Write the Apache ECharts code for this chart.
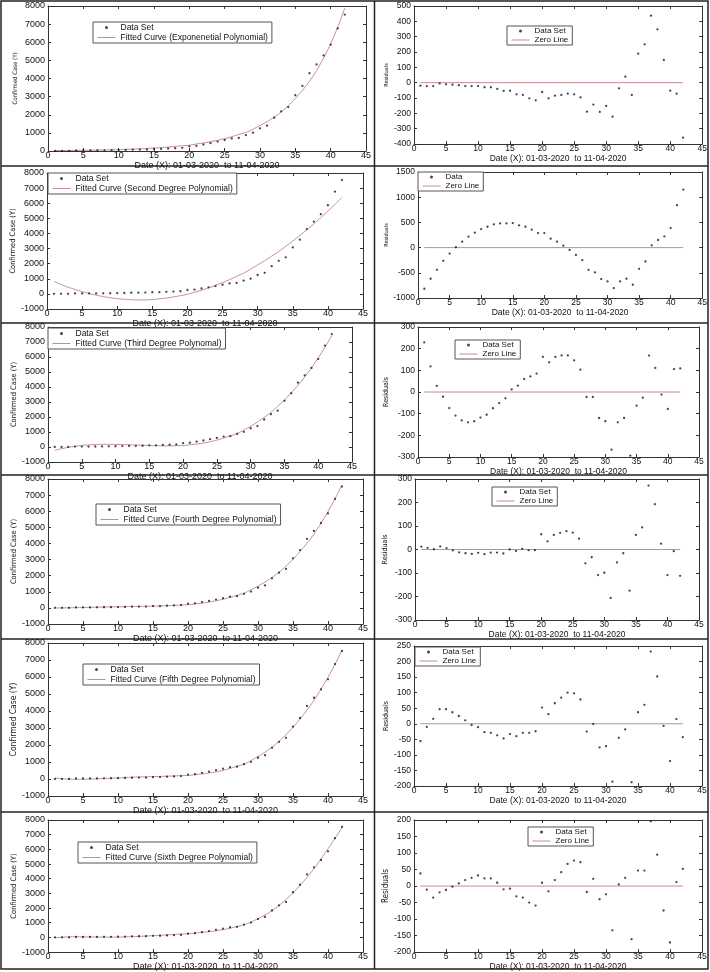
<!DOCTYPE html>
<html><head><meta charset="utf-8">
<script src="https://cdn.jsdelivr.net/npm/echarts@6/dist/echarts.min.js"></script>
<style>html,body{margin:0;padding:0;background:#fff}#c{width:710px;height:972px}</style>
</head><body><div id="c"></div>
<script>
// ---------------- DATA ----------------
const days = [1,2,3,4,5,6,7,8,9,10,11,12,13,14,15,16,17,18,19,20,21,22,23,24,25,26,27,28,29,30,31,32,33,34,35,36,37,38,39,40,41,42];
const confirmed = [5,5,5,28,30,31,34,39,43,50,60,74,81,84,110,114,137,151,173,258,283,360,433,519,606,694,724,873,1010,1251,1397,1834,2188,2421,3076,3588,4289,4778,5274,5865,6761,7529];

const fitExp = [25,27,27,33,41,44,51,61,65,72,90,104,122,138,162,190,217,253,288,319,385,445,513,591,682,790,913,1016,1201,1403,1619,1871,2149,2501,2887,3338,3852,4430,5126,5917,6833,7888];
const fitDeg2 = [821,623,446,291,148,24,-84,-178,-253,-318,-354,-387,-399,-396,-377,-327,-277,-204,-116,-31,105,242,394,565,751,944,1165,1366,1635,1922,2200,2505,2806,3158,3497,3864,4243,4627,5050,5477,5919,6378];
const fitDeg3 = [-224,-113,-23,50,104,140,165,179,178,168,165,149,132,113,98,85,77,79,88,96,146,198,264,350,460,591,747,896,1130,1386,1663,1974,2308,2715,3139,3614,4121,4667,5286,5943,6655,7420];
const fitDeg4 = [-7,-2,4,15,24,35,46,55,62,64,80,87,94,101,110,120,134,154,176,193,248,298,362,441,534,648,783,906,1119,1350,1603,1889,2204,2596,3014,3494,4017,4585,5249,5974,6768,7641];
const fitDeg5 = [61,15,-11,-19,-17,-6,9,28,47,61,87,103,118,131,143,154,166,180,197,206,252,294,349,419,508,616,749,874,1086,1323,1583,1879,2206,2609,3039,3527,4057,4626,5281,5985,6746,7572];
const fitDeg6 = [-33,16,40,47,42,33,26,21,18,18,37,51,71,94,118,145,172,201,232,248,299,342,391,452,529,622,742,851,1050,1276,1531,1829,2163,2582,3029,3541,4093,4683,5348,6036,6749,7477];

const residExp = [-20,-22,-22,-5,-11,-13,-17,-22,-22,-22,-30,-30,-41,-54,-52,-76,-80,-102,-115,-61,-102,-85,-80,-72,-76,-96,-189,-143,-191,-152,-222,-37,39,-80,189,250,437,348,148,-52,-72,-359];
const residDeg2 = [-816,-618,-441,-263,-118,7,118,217,296,368,414,461,480,480,487,441,414,355,289,289,178,118,39,-46,-145,-250,-441,-493,-625,-671,-803,-671,-618,-737,-421,-276,46,151,224,388,842,1151];
const residDeg3 = [229,118,28,-22,-74,-109,-131,-140,-135,-118,-105,-75,-51,-29,12,29,60,72,85,162,137,162,169,169,146,103,-23,-23,-120,-135,-266,-140,-120,-294,-63,-26,168,111,-12,-78,106,109];
const residDeg4 = [12,7,1,13,6,-4,-12,-16,-19,-14,-20,-13,-13,-17,0,-6,3,-3,-3,65,35,62,71,78,72,46,-59,-33,-109,-99,-206,-55,-16,-175,62,94,272,193,25,-109,-7,-112];
const residDeg5 = [-56,-10,16,47,47,37,25,11,-4,-11,-27,-29,-37,-47,-33,-40,-29,-29,-24,52,31,66,84,100,98,78,-25,-1,-76,-72,-186,-45,-18,-188,37,61,232,152,-7,-120,15,-43];
const residDeg6 = [38,-11,-35,-19,-12,-2,8,18,25,32,23,23,10,-10,-8,-31,-35,-50,-59,10,-16,18,42,67,77,72,-18,22,-40,-25,-134,5,25,-161,47,47,196,95,-74,-171,12,52];

const zeroLineX = [1, 42];
const zeroLineY = [0, 0];

const fitNames = ['Fitted Curve (Exponenetial Polynomial)','Fitted Curve (Second Degree Polynomial)','Fitted Curve (Third Degree Polynomal)','Fitted Curve (Fourth Degree Polynomial)','Fitted Curve (Fifth Degree Polynomial)','Fitted Curve (Sixth Degree Polynomial)'];
const residDataNames = ['Data Set','Data','Data Set','Data Set','Data Set','Data Set'];
const fits = [fitExp, fitDeg2, fitDeg3, fitDeg4, fitDeg5, fitDeg6];
const resids = [residExp, residDeg2, residDeg3, residDeg4, residDeg5, residDeg6];

const xTicks = {min: 0, max: 45, step: 5};
const caseTicks = [{min:0,max:8000,step:1000},{min:-1000,max:8000,step:1000},{min:-1000,max:8000,step:1000},{min:-1000,max:8000,step:1000},{min:-1000,max:8000,step:1000},{min:-1000,max:8000,step:1000}];
const residTicks = [{min:-400,max:500,step:100},{min:-1000,max:1500,step:500},{min:-300,max:300,step:100},{min:-300,max:300,step:100},{min:-200,max:250,step:50},{min:-200,max:200,step:50}];

const xName = 'Date (X): 01-03-2020  to 11-04-2020';
const yNameLeft = 'Confirmed Case (Y)';
const yNameRight = 'Residuals';

// ---------------- LAYOUT ----------------
const L = {
  leftGrid: [[48,6,318,145],[47,173,316,136],[48,327,304,135],[48,479,315,145],[48,643,315,153],[48,820,315,134]],
  rightGrid: [[414,6,291,138],[418,172,288,126],[418,327,281,130],[415,479,284,141],[414,646,288,140],[414,820,288,135]],
  leftLegend: [[93,22],[48,173],[48,328],[96,504],[83,664],[78,842]],
  rightLegend: [[507,26],[418,172],[455,340],[492,487],[415,647],[528,827]],
  leftNameGap: [7,7.5,5.5,6.5,6.5,5.5],
  rightNameGap: [6.5,5.5,5.5,4,5,8.5],
  leftYNameSize: [6,7.5,7.5,7.5,8.5,7.5],
  rightYNameSize: [5.5,5.5,7,7,7,8],
  rightYNameGap: [24,28,28,26.5,24,23],
  hLines: [166,323,475,639,812],
  vLine: 374.5
};

const FONT = "'Liberation Sans', Arial, sans-serif";
const NARROW = "'Liberation Sans Narrow', 'DejaVu Sans Condensed', sans-serif";
const AX = '#333', TXT = '#111';
const dotColor = '#15153a', curveColor = '#c98a96';
const plain = v => String(v);

const option = {animation:false, grid:[], xAxis:[], yAxis:[], series:[], legend:[], graphic:[]};

function addPanel(rect, yt, xGap, yName, yNameSize, yNameGap, labelSize) {
  const g = option.grid.length;
  option.grid.push({left:rect[0], top:rect[1], width:rect[2], height:rect[3]});
  const line = {onZero:false, lineStyle:{color:AX, width:1}};
  const tick = {inside:true, length:3, lineStyle:{color:AX}};
  option.xAxis.push({type:'value', gridIndex:g, position:'bottom', min:xTicks.min, max:xTicks.max, interval:xTicks.step,
    axisLine:line, axisTick:tick, splitLine:{show:false},
    axisLabel:{fontSize:labelSize, color:TXT, margin:0, fontFamily:FONT, formatter:plain},
    name:xName, nameLocation:'middle', nameGap:xGap, nameTextStyle:{fontSize:labelSize, color:TXT, fontFamily:FONT}});
  option.xAxis.push({type:'value', gridIndex:g, position:'top', min:xTicks.min, max:xTicks.max, interval:xTicks.step,
    axisLine:line, axisTick:tick, splitLine:{show:false}, axisLabel:{show:false}});
  option.yAxis.push({type:'value', gridIndex:g, position:'left', min:yt.min, max:yt.max, interval:yt.step,
    axisLine:line, axisTick:tick, splitLine:{show:false},
    axisLabel:{fontSize:labelSize, color:TXT, margin:3, fontFamily:FONT, formatter:plain},
    name:yName, nameLocation:'middle', nameRotate:90, nameGap:yNameGap, nameTextStyle:{fontSize:yNameSize, color:TXT, fontFamily:NARROW}});
  option.yAxis.push({type:'value', gridIndex:g, position:'right', min:yt.min, max:yt.max, interval:yt.step,
    axisLine:line, axisTick:tick, splitLine:{show:false}, axisLabel:{show:false}});
  return g;
}

function addLegend(pos, dotName, lineName, fs) {
  option.legend.push({left:pos[0], top:pos[1], orient:'vertical', selectedMode:false,
    data:[{name:dotName}, {name:lineName, itemStyle:{opacity:0}, lineStyle:{width:1, color:curveColor}}],
    itemWidth:18, itemHeight:3, itemGap:1, padding:[1,4,1,4],
    borderColor:'#555', borderWidth:1, backgroundColor:'#fff',
    textStyle:{fontSize:fs, color:TXT, fontFamily:FONT, lineHeight:8}});
}

for (let r = 0; r < 6; r++) {
  let g = addPanel(L.leftGrid[r], caseTicks[r], L.leftNameGap[r], yNameLeft, L.leftYNameSize[r], 30, 9);
  option.series.push({type:'scatter', name:'Data Set', xAxisIndex:2*g, yAxisIndex:2*g, symbol:'circle', symbolSize:2.3,
    itemStyle:{color:dotColor}, silent:true, data: days.map((d,i)=>[d, confirmed[i]])});
  option.series.push({type:'line', name:fitNames[r], xAxisIndex:2*g, yAxisIndex:2*g, symbol:'none', smooth:0.2,
    lineStyle:{color:curveColor, width:1}, itemStyle:{color:curveColor}, silent:true, z:1,
    data: days.map((d,i)=>[d, fits[r][i]])});
  addLegend(L.leftLegend[r], 'Data Set', fitNames[r], 8.5);

  g = addPanel(L.rightGrid[r], residTicks[r], L.rightNameGap[r], yNameRight, L.rightYNameSize[r], L.rightYNameGap[r], 8.5);
  option.series.push({type:'scatter', name:residDataNames[r], xAxisIndex:2*g, yAxisIndex:2*g, symbol:'circle', symbolSize:2.3,
    itemStyle:{color:dotColor}, silent:true, data: days.map((d,i)=>[d, resids[r][i]])});
  option.series.push({type:'line', name:'Zero Line', xAxisIndex:2*g, yAxisIndex:2*g, symbol:'none',
    lineStyle:{color:curveColor, width:1}, itemStyle:{color:curveColor}, silent:true, z:1,
    data: zeroLineX.map((x,i)=>[x, zeroLineY[i]])});
  addLegend(L.rightLegend[r], residDataNames[r], 'Zero Line', 8);
}

option.graphic.push({type:'rect', silent:true, z:-1, shape:{x:1,y:1,width:707,height:968}, style:{fill:'none', stroke:'#222', lineWidth:1.5}});
option.graphic.push({type:'line', silent:true, z:-1, shape:{x1:L.vLine,y1:1,x2:L.vLine,y2:969}, style:{stroke:'#222', lineWidth:1.5}});
L.hLines.forEach(y => option.graphic.push({type:'line', silent:true, z:-1, shape:{x1:1,y1:y,x2:708,y2:y}, style:{stroke:'#222', lineWidth:1.5}}));

const chart = echarts.init(document.getElementById('c'), null, {renderer:'canvas'});
chart.setOption(option);
</script></body></html>
